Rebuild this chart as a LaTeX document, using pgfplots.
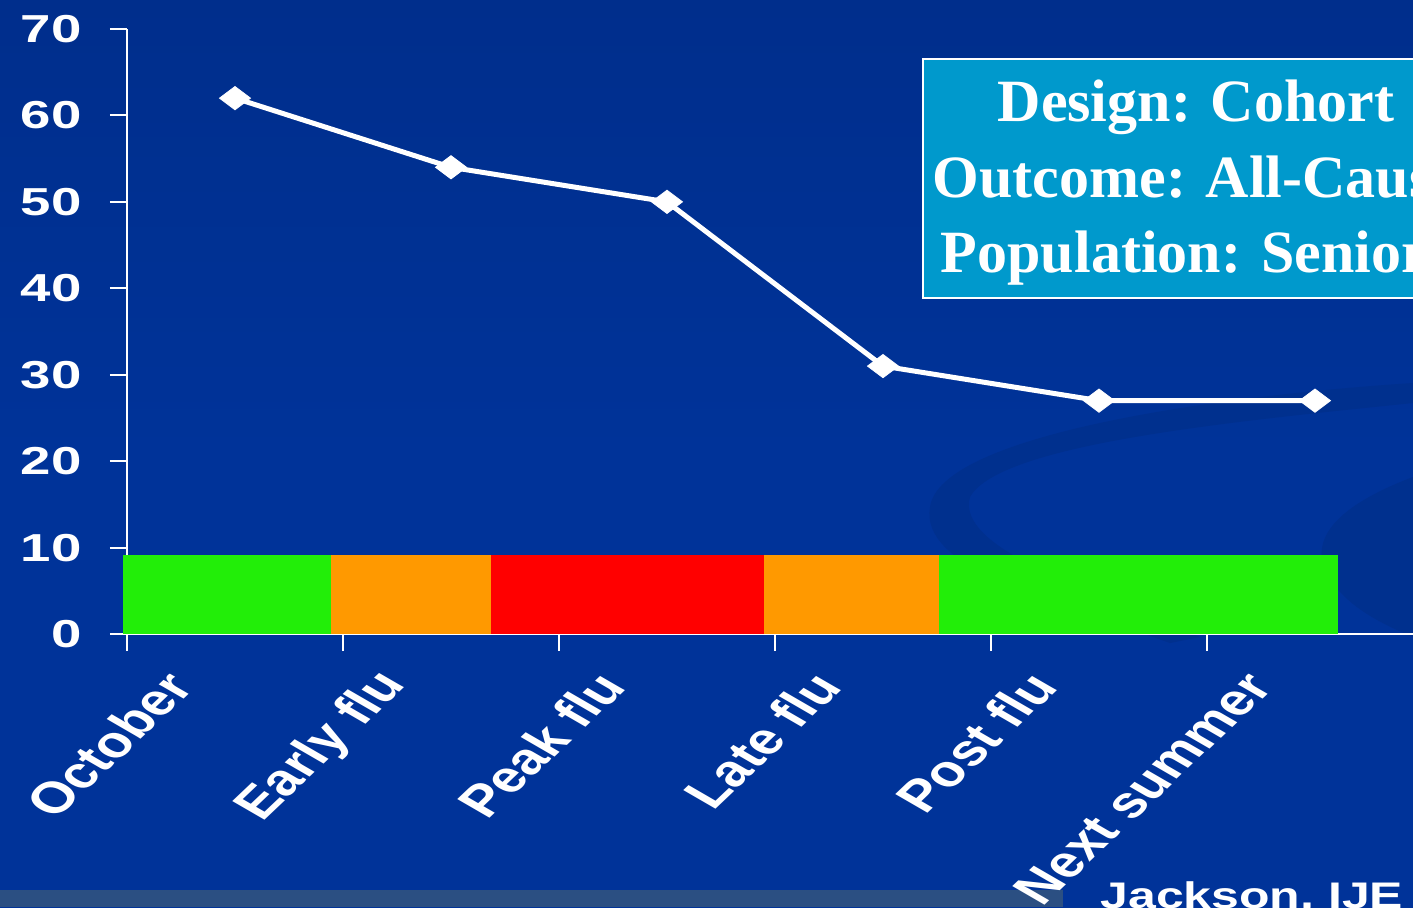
\documentclass[border=0pt]{standalone}
\usepackage{pgfplots}
\pgfplotsset{compat=1.18}
\usepackage{fontspec}
\setmainfont{Liberation Sans}
\newfontfamily\serifbf{Liberation Serif}
\definecolor{bg}{HTML}{003399}
\definecolor{bgtop}{HTML}{002E8C}
\definecolor{bgdark}{HTML}{00308E}
\definecolor{boxc}{HTML}{0099CC}
\definecolor{cgreen}{HTML}{22EE08}
\definecolor{corange}{HTML}{FF9900}
\definecolor{cred}{HTML}{FF0000}
\definecolor{strip}{HTML}{2B4F82}
\begin{document}
\begin{tikzpicture}
\useasboundingbox (0,0) rectangle (706.5pt,453.5pt);
\clip (0,0) rectangle (706.5pt,453.5pt);
\shade[top color=bgtop, bottom color=bg, middle color=bg] (0,0) rectangle (706.5pt,453.5pt);
% faint background swirl
\fill[bgdark] (465pt,200pt) .. controls (470pt,235pt) and (600pt,255pt) .. (706.5pt,262pt)
  -- (706.5pt,252pt) .. controls (620pt,243pt) and (500pt,232pt) .. (485pt,205pt)
  .. controls (478pt,180pt) and (540pt,160pt) .. (600pt,135pt)
  -- (585pt,132pt) .. controls (520pt,155pt) and (460pt,170pt) .. (465pt,200pt) -- cycle;
\fill[bgdark] (706.5pt,215pt) .. controls (680pt,205pt) and (655pt,190pt) .. (662pt,170pt)
  .. controls (670pt,150pt) and (695pt,140pt) .. (706.5pt,135pt) -- cycle;
% bottom strip
\fill[strip] (0,0) rectangle (531.5pt,8.5pt);
% text box
\draw[white, line width=1pt, fill=boxc] (461.5pt,424pt) rectangle (740pt,304.5pt);
\begin{scope}[every node/.style={text=white, font=\serifbf\bfseries\fontsize{30}{36}\selectfont, anchor=base, inner sep=0pt}]
\node at (598pt,392.5pt) {Design: Cohort};
\node at (598pt,354.5pt) {Outcome: All-Cause};
\node at (598pt,317.5pt) {Population: Seniors};
\end{scope}
\node[anchor=base west, inner sep=0pt, text=white, xscale=1.35, font=\bfseries\fontsize{18.5}{20}\selectfont] at (550pt,-0.75pt) {Jackson, IJE 2006};
\begin{axis}[
  at={(63.5pt,136.5pt)}, anchor=south west,
  scale only axis, width=648pt, height=302.5pt,
  xmin=0, xmax=6, ymin=0, ymax=70, clip=false,
  axis x line*=bottom, axis y line*=left,
  axis line style={white, line width=1pt},
  tick style={white, line width=1pt},
  tick align=outside, major tick length=8.5pt,
  ytick={0,10,...,70},
  xtick={0,1,...,6}, xticklabels={},
  extra x ticks={0.5,1.5,...,5.5},
  extra x tick labels={October,Early flu,Peak flu,Late flu,Post flu,Next summer},
  extra x tick style={major tick length=0pt,
    xticklabel style={xshift=-28pt, yshift=-22pt, xscale=1.35, rotate=52, anchor=east,
      text=white, font=\bfseries\fontsize{22}{24}\selectfont, inner sep=0pt}},
  yticklabel style={xshift=-14pt, text=white, font=\bfseries\fontsize{19.5}{20}\selectfont, xscale=1.4, anchor=east, inner sep=0pt},
  /pgf/number format/assume math mode=true,
]
\addplot[draw=none, fill=cgreen] coordinates {(-0.0185,0) (0.944,0) (0.944,9.15) (-0.0185,9.15)};
\addplot[draw=none, fill=corange] coordinates {(0.944,0) (1.685,0) (1.685,9.15) (0.944,9.15)};
\addplot[draw=none, fill=cred] coordinates {(1.685,0) (2.949,0) (2.949,9.15) (1.685,9.15)};
\addplot[draw=none, fill=corange] coordinates {(2.949,0) (3.759,0) (3.759,9.15) (2.949,9.15)};
\addplot[draw=none, fill=cgreen] coordinates {(3.759,0) (5.606,0) (5.606,9.15) (3.759,9.15)};
\addplot[white, line width=2.5pt, mark=diamond*, mark size=7.75pt,
  mark options={line width=0.4pt, fill=white, rotate=90}]
  coordinates {(0.5,62) (1.5,54) (2.5,50) (3.5,31) (4.5,27) (5.5,27)};
\end{axis}
\end{tikzpicture}
\end{document}
